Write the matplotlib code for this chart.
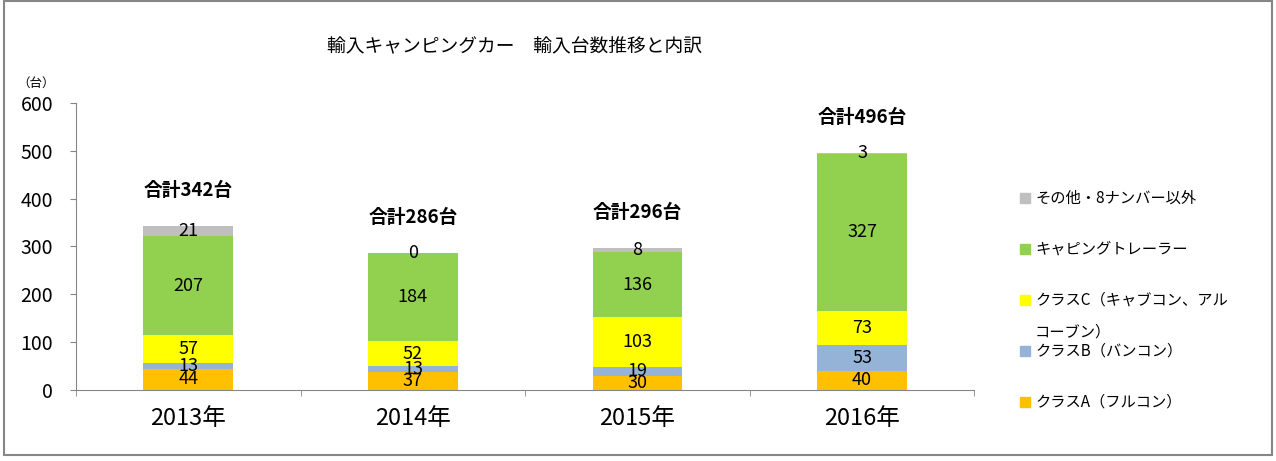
"""Imported camper vans: stacked bar of yearly import counts by class."""

import matplotlib.pyplot as plt
from matplotlib.patches import Rectangle
import numpy as np

plt.rcParams["font.family"] = ["Noto Sans CJK JP", "DejaVu Sans"]

YEARS = ["2013年", "2014年", "2015年", "2016年"]
CLASS_A = [44, 37, 30, 40]
CLASS_B = [13, 13, 19, 53]
CLASS_C = [57, 52, 103, 73]
TRAILER = [207, 184, 136, 327]
OTHER = [21, 0, 8, 3]
TOTALS = [342, 286, 296, 496]

SERIES = [
    (["クラスA（フルコン）"], CLASS_A, "#FFC000"),
    (["クラスB（バンコン）"], CLASS_B, "#95B3D7"),
    (["クラスC（キャブコン、アル", "コーブン）"], CLASS_C, "#FFFF00"),
    (["キャピングトレーラー"], TRAILER, "#92D050"),
    (["その他・8ナンバー以外"], OTHER, "#BFBFBF"),
]


def draw_legend(fig) -> None:
    """Hand-placed legend, entries evenly spaced like the original."""
    width, height = fig.get_size_inches() * fig.dpi
    top, step = 198, 51
    for i, (lines, _, color) in enumerate(SERIES[::-1]):
        y = top + i * step
        fig.add_artist(Rectangle((1020 / width, 1 - (y + 5) / height),
                                 10 / width, 10 / height,
                                 transform=fig.transFigure, color=color))
        for j, line in enumerate(lines):
            fig.text(1035 / width, 1 - (y + j * 32) / height, line,
                     fontsize=11, ha="left", va="center")


def main() -> None:
    fig = plt.figure(figsize=(12.76, 4.61), dpi=100)
    ax = fig.add_axes([0.0596, 0.154, 0.704, 0.623])

    x = np.arange(len(YEARS))
    bottom = np.zeros(len(YEARS))
    for _, values, color in SERIES:
        bars = ax.bar(x, values, 0.4, bottom=bottom, color=color)
        ax.bar_label(bars, labels=[str(v) for v in values],
                     label_type="center", fontsize=13, color="black")
        bottom += np.array(values)

    for xi, total in zip(x, TOTALS):
        ax.text(xi, total + 74, f"合計{total}台", ha="center", va="center",
                fontsize=13.5, fontweight="bold")

    ax.set_xlim(-0.5, len(YEARS) - 0.5)
    ax.set_ylim(0, 600)
    ax.set_yticks(range(0, 601, 100))
    ax.set_xticks(x)
    ax.set_xticklabels(YEARS, fontsize=17)
    ax.set_xticks(np.arange(-0.5, len(YEARS)), minor=True)
    ax.tick_params(axis="x", which="major", length=0, pad=12)
    ax.tick_params(axis="x", which="minor", length=4.5, color="#868686")
    ax.tick_params(axis="y", labelsize=14, length=4.5, color="#868686",
                   pad=12)
    for side in ("top", "right"):
        ax.spines[side].set_visible(False)
    for side in ("left", "bottom"):
        ax.spines[side].set_color("#868686")

    fig.text(0.028, 0.82, "（台）", fontsize=9, ha="center", va="center")
    fig.text(0.4036, 0.898, "輸入キャンピングカー　輸入台数推移と内訳",
             fontsize=13.5, ha="center", va="center")

    draw_legend(fig)

    fig.add_artist(Rectangle((0.003, 0.012), 0.994, 0.985,
                             transform=fig.transFigure, fill=False,
                             edgecolor="#868686", linewidth=1.5))

    fig.savefig("out.png", dpi=100)
    plt.close(fig)


if __name__ == "__main__":
    main()
